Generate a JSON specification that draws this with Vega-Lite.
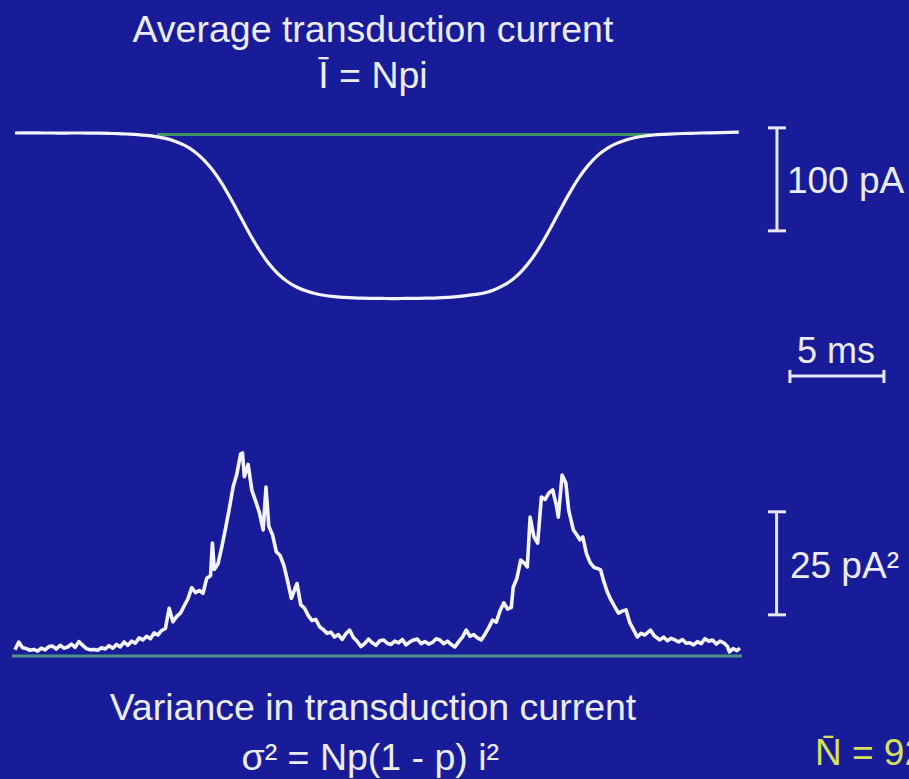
{
  "$schema": "https://vega.github.io/schema/vega-lite/v6.json",
  "width": 909,
  "height": 779,
  "autosize": {"type": "fit", "contains": "padding"},
  "padding": 0,
  "background": "#191c99",
  "config": {
    "view": {"stroke": null},
    "text": {"font": "Liberation Sans", "color": "#ececf6"}
  },
  "datasets": {
    "current": [
      {"t": 0, "pA": 0}, {"t": 0.5, "pA": 0.1}, {"t": 1, "pA": 0.2}, {"t": 1.5, "pA": 0}, {"t": 2, "pA": 0},
      {"t": 2.5, "pA": -0.2}, {"t": 3, "pA": 0}, {"t": 3.5, "pA": 0}, {"t": 4, "pA": -0.1}, {"t": 4.5, "pA": -0.2},
      {"t": 5, "pA": -0.4}, {"t": 5.5, "pA": -0.6}, {"t": 6, "pA": -1.0}, {"t": 6.5, "pA": -1.5}, {"t": 7, "pA": -2.3},
      {"t": 7.5, "pA": -3.5}, {"t": 8, "pA": -5.2}, {"t": 8.5, "pA": -7.9}, {"t": 9, "pA": -11.8}, {"t": 9.5, "pA": -17.4},
      {"t": 10, "pA": -25.3}, {"t": 10.5, "pA": -35.7}, {"t": 11, "pA": -48.9}, {"t": 11.5, "pA": -64.6}, {"t": 12, "pA": -81.6},
      {"t": 12.5, "pA": -98.5}, {"t": 13, "pA": -113.8}, {"t": 13.5, "pA": -126.7}, {"t": 14, "pA": -136.9}, {"t": 14.5, "pA": -144.4},
      {"t": 15, "pA": -149.7}, {"t": 15.5, "pA": -153.4}, {"t": 16, "pA": -156.0}, {"t": 16.5, "pA": -157.8}, {"t": 17, "pA": -158.8},
      {"t": 17.5, "pA": -159.6}, {"t": 18, "pA": -160.1}, {"t": 18.5, "pA": -160.4}, {"t": 19, "pA": -160.5}, {"t": 19.5, "pA": -160.6},
      {"t": 20, "pA": -160.8}, {"t": 20.5, "pA": -160.7}, {"t": 21, "pA": -160.6}, {"t": 21.5, "pA": -160.5}, {"t": 22, "pA": -160.3},
      {"t": 22.5, "pA": -160.0}, {"t": 23, "pA": -159.5}, {"t": 23.5, "pA": -158.8}, {"t": 24, "pA": -157.9}, {"t": 24.5, "pA": -156.7},
      {"t": 25, "pA": -155.1}, {"t": 25.5, "pA": -152.2}, {"t": 26, "pA": -147.8}, {"t": 26.5, "pA": -141.7}, {"t": 27, "pA": -133.1},
      {"t": 27.5, "pA": -121.9}, {"t": 28, "pA": -107.9}, {"t": 28.5, "pA": -91.8}, {"t": 29, "pA": -74.7}, {"t": 29.5, "pA": -58.1},
      {"t": 30, "pA": -43.3}, {"t": 30.5, "pA": -31.2}, {"t": 31, "pA": -21.7}, {"t": 31.5, "pA": -14.9}, {"t": 32, "pA": -10.1},
      {"t": 32.5, "pA": -6.7}, {"t": 33, "pA": -4.4}, {"t": 33.5, "pA": -2.9}, {"t": 34, "pA": -1.9}, {"t": 34.5, "pA": -1.3},
      {"t": 35, "pA": -0.8}, {"t": 35.5, "pA": -0.5}, {"t": 36, "pA": -0.3}, {"t": 36.5, "pA": 0}, {"t": 37, "pA": 0.2},
      {"t": 37.5, "pA": 0.4}, {"t": 38, "pA": 0.6}, {"t": 38.5, "pA": 0.8}
    ],
    "variance": [
      {"t": 0.0, "v": 1.5}, {"t": 0.2, "v": 3.4}, {"t": 0.4, "v": 2.0}, {"t": 0.6, "v": 1.8}, {"t": 0.8, "v": 1.4},
      {"t": 1.0, "v": 1.6}, {"t": 1.2, "v": 1.2}, {"t": 1.4, "v": 1.9}, {"t": 1.6, "v": 1.5}, {"t": 1.8, "v": 2.3},
      {"t": 2.0, "v": 2.4}, {"t": 2.2, "v": 1.7}, {"t": 2.4, "v": 2.6}, {"t": 2.6, "v": 1.9}, {"t": 2.8, "v": 2.2},
      {"t": 3.0, "v": 2.9}, {"t": 3.2, "v": 2.1}, {"t": 3.4, "v": 3.5}, {"t": 3.6, "v": 2.6}, {"t": 3.8, "v": 1.8},
      {"t": 4.0, "v": 1.5}, {"t": 4.2, "v": 1.6}, {"t": 4.4, "v": 1.4}, {"t": 4.6, "v": 2.0}, {"t": 4.8, "v": 1.7},
      {"t": 5.0, "v": 2.5}, {"t": 5.2, "v": 1.9}, {"t": 5.4, "v": 2.8}, {"t": 5.6, "v": 2.2}, {"t": 5.8, "v": 3.4},
      {"t": 6.0, "v": 2.6}, {"t": 6.2, "v": 3.6}, {"t": 6.4, "v": 3.1}, {"t": 6.6, "v": 4.4}, {"t": 6.8, "v": 3.9},
      {"t": 7.0, "v": 4.8}, {"t": 7.2, "v": 4.2}, {"t": 7.4, "v": 5.6}, {"t": 7.6, "v": 5.1}, {"t": 7.8, "v": 6.2},
      {"t": 8.0, "v": 6.7}, {"t": 8.2, "v": 11.6}, {"t": 8.4, "v": 8.3}, {"t": 8.6, "v": 9.6}, {"t": 8.8, "v": 10.4},
      {"t": 9.0, "v": 12.2}, {"t": 9.2, "v": 13.9}, {"t": 9.4, "v": 16.6}, {"t": 9.6, "v": 15.4}, {"t": 9.8, "v": 15.9},
      {"t": 10.0, "v": 15.2}, {"t": 10.2, "v": 18.9}, {"t": 10.4, "v": 19.5}, {"t": 10.5, "v": 27.4}, {"t": 10.6, "v": 21.0},
      {"t": 10.8, "v": 22.4}, {"t": 11.0, "v": 26.5}, {"t": 11.2, "v": 31.0}, {"t": 11.4, "v": 35.8}, {"t": 11.6, "v": 41.0},
      {"t": 11.8, "v": 44.2}, {"t": 12.0, "v": 49.0}, {"t": 12.1, "v": 49.3}, {"t": 12.2, "v": 43.5}, {"t": 12.4, "v": 46.5},
      {"t": 12.6, "v": 40.2}, {"t": 12.8, "v": 37.6}, {"t": 13.0, "v": 34.8}, {"t": 13.2, "v": 30.6}, {"t": 13.35, "v": 41.0},
      {"t": 13.5, "v": 31.5}, {"t": 13.7, "v": 29.4}, {"t": 13.9, "v": 25.3}, {"t": 14.1, "v": 24.4}, {"t": 14.3, "v": 22.0},
      {"t": 14.5, "v": 18.2}, {"t": 14.7, "v": 14.0}, {"t": 14.9, "v": 16.5}, {"t": 15.0, "v": 17.6}, {"t": 15.2, "v": 12.4},
      {"t": 15.4, "v": 11.6}, {"t": 15.6, "v": 9.8}, {"t": 15.8, "v": 8.6}, {"t": 16.0, "v": 8.9}, {"t": 16.2, "v": 7.1},
      {"t": 16.4, "v": 6.4}, {"t": 16.6, "v": 5.5}, {"t": 16.8, "v": 5.8}, {"t": 17.0, "v": 4.6}, {"t": 17.2, "v": 5.2},
      {"t": 17.4, "v": 4.0}, {"t": 17.6, "v": 5.4}, {"t": 17.8, "v": 6.3}, {"t": 18.0, "v": 4.5}, {"t": 18.2, "v": 3.6},
      {"t": 18.4, "v": 2.3}, {"t": 18.6, "v": 3.0}, {"t": 18.8, "v": 4.1}, {"t": 19.0, "v": 3.2}, {"t": 19.2, "v": 2.6},
      {"t": 19.4, "v": 3.7}, {"t": 19.6, "v": 3.9}, {"t": 19.8, "v": 3.1}, {"t": 20.0, "v": 2.8}, {"t": 20.2, "v": 3.6},
      {"t": 20.4, "v": 3.2}, {"t": 20.6, "v": 4.0}, {"t": 20.8, "v": 2.7}, {"t": 21.0, "v": 3.4}, {"t": 21.2, "v": 3.9},
      {"t": 21.4, "v": 4.1}, {"t": 21.6, "v": 3.0}, {"t": 21.8, "v": 3.5}, {"t": 22.0, "v": 2.9}, {"t": 22.2, "v": 3.3},
      {"t": 22.4, "v": 4.2}, {"t": 22.6, "v": 3.9}, {"t": 22.8, "v": 3.0}, {"t": 23.0, "v": 3.6}, {"t": 23.2, "v": 2.8},
      {"t": 23.4, "v": 2.2}, {"t": 23.6, "v": 3.5}, {"t": 23.8, "v": 4.6}, {"t": 24.0, "v": 6.3}, {"t": 24.2, "v": 4.8},
      {"t": 24.4, "v": 5.2}, {"t": 24.6, "v": 4.4}, {"t": 24.8, "v": 3.9}, {"t": 25.0, "v": 5.3}, {"t": 25.2, "v": 6.9},
      {"t": 25.4, "v": 8.7}, {"t": 25.6, "v": 8.2}, {"t": 25.8, "v": 11.0}, {"t": 26.0, "v": 12.9}, {"t": 26.2, "v": 11.4},
      {"t": 26.4, "v": 11.8}, {"t": 26.5, "v": 16.7}, {"t": 26.7, "v": 18.9}, {"t": 26.9, "v": 23.3}, {"t": 27.1, "v": 22.5},
      {"t": 27.25, "v": 21.6}, {"t": 27.4, "v": 33.7}, {"t": 27.6, "v": 29.0}, {"t": 27.8, "v": 27.4}, {"t": 28.0, "v": 38.6},
      {"t": 28.2, "v": 38.0}, {"t": 28.4, "v": 39.6}, {"t": 28.6, "v": 40.3}, {"t": 28.8, "v": 36.5}, {"t": 28.9, "v": 33.7},
      {"t": 29.1, "v": 43.9}, {"t": 29.3, "v": 42.0}, {"t": 29.45, "v": 35.4}, {"t": 29.7, "v": 30.6}, {"t": 29.9, "v": 29.3},
      {"t": 30.05, "v": 28.2}, {"t": 30.2, "v": 28.9}, {"t": 30.4, "v": 24.8}, {"t": 30.6, "v": 22.6}, {"t": 30.8, "v": 21.5},
      {"t": 31.0, "v": 21.2}, {"t": 31.15, "v": 20.9}, {"t": 31.3, "v": 18.4}, {"t": 31.5, "v": 15.6}, {"t": 31.7, "v": 13.6},
      {"t": 31.9, "v": 12.0}, {"t": 32.1, "v": 10.4}, {"t": 32.3, "v": 10.9}, {"t": 32.5, "v": 11.2}, {"t": 32.7, "v": 8.1},
      {"t": 32.9, "v": 6.4}, {"t": 33.1, "v": 4.6}, {"t": 33.3, "v": 5.5}, {"t": 33.5, "v": 5.1}, {"t": 33.8, "v": 6.3},
      {"t": 34.0, "v": 4.9}, {"t": 34.3, "v": 3.9}, {"t": 34.5, "v": 4.6}, {"t": 34.7, "v": 3.7}, {"t": 34.9, "v": 4.3},
      {"t": 35.1, "v": 3.9}, {"t": 35.3, "v": 3.4}, {"t": 35.5, "v": 4.0}, {"t": 35.7, "v": 3.1}, {"t": 35.9, "v": 3.2},
      {"t": 36.1, "v": 2.7}, {"t": 36.3, "v": 3.5}, {"t": 36.5, "v": 3.0}, {"t": 36.7, "v": 4.2}, {"t": 36.9, "v": 3.6},
      {"t": 37.1, "v": 3.9}, {"t": 37.3, "v": 2.9}, {"t": 37.5, "v": 3.6}, {"t": 37.7, "v": 3.2}, {"t": 37.9, "v": 2.3},
      {"t": 38.0, "v": 1.0}, {"t": 38.2, "v": 1.8}, {"t": 38.4, "v": 1.3}, {"t": 38.56, "v": 1.9}
    ],
    "currentBaseline": [{"t0": 7.55, "t1": 33.78, "pA": -1.5}],
    "varianceBaseline": [{"t0": -0.16, "t1": 38.67, "v": 0}],
    "currentBar": [{"t": 40.53, "from": 5, "to": -95}],
    "currentBarCaps": [{"t0": 40.05, "t1": 41.01, "pA": 5}, {"t0": 40.05, "t1": 41.01, "pA": -95}],
    "timeBar": [{"t0": 41.22, "t1": 46.22, "pA": -235.9}],
    "timeBarCaps": [{"t": 41.22, "from": -230, "to": -242.7}, {"t": 46.22, "from": -230, "to": -242.7}],
    "varianceBar": [{"t": 40.51, "from": 10, "to": 35}],
    "varianceBarCaps": [{"t0": 40.05, "t1": 41.01, "v": 10}, {"t0": 40.05, "t1": 41.01, "v": 35}],
    "topCentred": [
      {"label": "Average transduction current", "t": 19.04, "pA": 88.3},
      {"label": "Ī = Npi", "t": 19.04, "pA": 43.7}
    ],
    "topSide": [
      {"label": "100 pA", "t": 41.06, "pA": -58.3}
    ],
    "timeLabel": [
      {"label": "5 ms", "t": 43.67, "pA": -223.3}
    ],
    "bottomCentred": [
      {"label": "Variance in transduction current", "t": 19.04, "v": -15.5},
      {"label": "σ² = Np(1 - p) i²", "t": 18.9, "v": -27.7}
    ],
    "bottomSide": [
      {"label": "25 pA²", "t": 41.22, "v": 18.9}
    ],
    "estimate": [
      {"label": "N̄ = 92", "t": 42.55, "v": -26.5}
    ]
  },
  "layer": [
    {
      "layer": [
        {
          "data": {"name": "currentBaseline"},
          "mark": {"type": "rule", "color": "#3f9463", "strokeWidth": 3},
          "encoding": {
            "x": {"field": "t0", "type": "quantitative", "scale": {"domain": [-0.798, 47.553], "nice": false, "zero": false}, "axis": null},
            "x2": {"field": "t1"},
            "y": {"field": "pA", "type": "quantitative", "scale": {"domain": [-627.18, 129.13], "nice": false, "zero": false}, "axis": null}
          }
        },
        {
          "data": {"name": "current"},
          "mark": {"type": "line", "color": "#f4f4ff", "strokeWidth": 3.2, "interpolate": "monotone"},
          "encoding": {
            "x": {"field": "t", "type": "quantitative"},
            "y": {"field": "pA", "type": "quantitative"}
          }
        },
        {
          "data": {"name": "currentBar"},
          "mark": {"type": "rule", "color": "#e6e6f4", "strokeWidth": 3},
          "encoding": {
            "x": {"field": "t", "type": "quantitative"},
            "y": {"field": "from", "type": "quantitative"},
            "y2": {"field": "to"}
          }
        },
        {
          "data": {"name": "currentBarCaps"},
          "mark": {"type": "rule", "color": "#e6e6f4", "strokeWidth": 3},
          "encoding": {
            "x": {"field": "t0", "type": "quantitative"},
            "x2": {"field": "t1"},
            "y": {"field": "pA", "type": "quantitative"}
          }
        },
        {
          "data": {"name": "timeBar"},
          "mark": {"type": "rule", "color": "#e6e6f4", "strokeWidth": 3},
          "encoding": {
            "x": {"field": "t0", "type": "quantitative"},
            "x2": {"field": "t1"},
            "y": {"field": "pA", "type": "quantitative"}
          }
        },
        {
          "data": {"name": "timeBarCaps"},
          "mark": {"type": "rule", "color": "#e6e6f4", "strokeWidth": 3},
          "encoding": {
            "x": {"field": "t", "type": "quantitative"},
            "y": {"field": "from", "type": "quantitative"},
            "y2": {"field": "to"}
          }
        },
        {
          "data": {"name": "topCentred"},
          "mark": {"type": "text", "fontSize": 37.5, "align": "center", "baseline": "alphabetic"},
          "encoding": {
            "x": {"field": "t", "type": "quantitative"},
            "y": {"field": "pA", "type": "quantitative"},
            "text": {"field": "label"}
          }
        },
        {
          "data": {"name": "topSide"},
          "mark": {"type": "text", "fontSize": 37, "align": "left", "baseline": "alphabetic"},
          "encoding": {
            "x": {"field": "t", "type": "quantitative"},
            "y": {"field": "pA", "type": "quantitative"},
            "text": {"field": "label"}
          }
        },
        {
          "data": {"name": "timeLabel"},
          "mark": {"type": "text", "fontSize": 36, "align": "center", "baseline": "alphabetic"},
          "encoding": {
            "x": {"field": "t", "type": "quantitative"},
            "y": {"field": "pA", "type": "quantitative"},
            "text": {"field": "label"}
          }
        }
      ]
    },
    {
      "layer": [
        {
          "data": {"name": "varianceBaseline"},
          "mark": {"type": "rule", "color": "#4b9486", "strokeWidth": 3},
          "encoding": {
            "x": {"field": "t0", "type": "quantitative"},
            "x2": {"field": "t1"},
            "y": {"field": "v", "type": "quantitative", "scale": {"domain": [-29.85, 159.22], "nice": false, "zero": false}, "axis": null}
          }
        },
        {
          "data": {"name": "variance"},
          "mark": {"type": "line", "color": "#f4f4ff", "strokeWidth": 3.6, "strokeJoin": "round"},
          "encoding": {
            "x": {"field": "t", "type": "quantitative"},
            "y": {"field": "v", "type": "quantitative"}
          }
        },
        {
          "data": {"name": "varianceBar"},
          "mark": {"type": "rule", "color": "#e6e6f4", "strokeWidth": 3},
          "encoding": {
            "x": {"field": "t", "type": "quantitative"},
            "y": {"field": "from", "type": "quantitative"},
            "y2": {"field": "to"}
          }
        },
        {
          "data": {"name": "varianceBarCaps"},
          "mark": {"type": "rule", "color": "#e6e6f4", "strokeWidth": 3},
          "encoding": {
            "x": {"field": "t0", "type": "quantitative"},
            "x2": {"field": "t1"},
            "y": {"field": "v", "type": "quantitative"}
          }
        },
        {
          "data": {"name": "bottomCentred"},
          "mark": {"type": "text", "fontSize": 37.5, "align": "center", "baseline": "alphabetic"},
          "encoding": {
            "x": {"field": "t", "type": "quantitative"},
            "y": {"field": "v", "type": "quantitative"},
            "text": {"field": "label"}
          }
        },
        {
          "data": {"name": "bottomSide"},
          "mark": {"type": "text", "fontSize": 37, "align": "left", "baseline": "alphabetic"},
          "encoding": {
            "x": {"field": "t", "type": "quantitative"},
            "y": {"field": "v", "type": "quantitative"},
            "text": {"field": "label"}
          }
        },
        {
          "data": {"name": "estimate"},
          "mark": {"type": "text", "fontSize": 37, "align": "left", "baseline": "alphabetic", "color": "#d6e05a", "clip": true},
          "encoding": {
            "x": {"field": "t", "type": "quantitative"},
            "y": {"field": "v", "type": "quantitative"},
            "text": {"field": "label"}
          }
        }
      ]
    }
  ],
  "resolve": {"scale": {"y": "independent"}}
}
